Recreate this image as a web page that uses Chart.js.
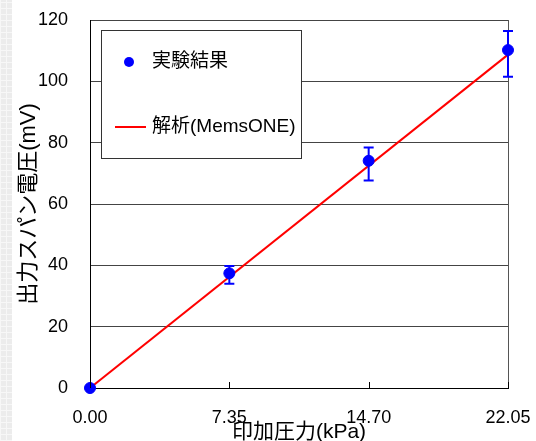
<!DOCTYPE html>
<html lang="ja">
<head>
    <meta charset="UTF-8">
    <title>出力スパン電圧</title>
    <script src="https://cdn.jsdelivr.net/npm/chart.js"></script>
    <style>
        body {
            margin: 0;
            background-color: #ffffff;
        }

        .strip {
            position: absolute;
            left: 0;
            top: 0;
            width: 12px;
            height: 441px;
            background-color: #ececec;
            background-image:
                repeating-linear-gradient(0deg, #f7f7f7 0px, #f7f7f7 1px, transparent 1px, transparent 6px),
                repeating-linear-gradient(90deg, #f7f7f7 0px, #f7f7f7 1px, transparent 1px, transparent 6px);
        }

        canvas {
            position: absolute;
            left: 0;
            top: 0;
        }
    </style>
</head>
<body>
    <div class="strip"></div>
    <canvas id="spanChart" width="536" height="441"></canvas>

    <script>
        // 実験結果
        const pressure = [0, 7.35, 14.70, 22.05];
        const measured = [0, 37.4, 74.1, 110.2];
        const errLow = [0, 34.0, 67.7, 101.5];
        const errHigh = [0, 39.8, 78.4, 116.4];

        // 解析(MemsONE)
        const analysisX = [0, 22.05];
        const analysisY = [0, 108.7];

        const xTicks = [0, 7.35, 14.70, 22.05];
        const yTicks = [0, 20, 40, 60, 80, 100, 120];

        const labelFont = '"Liberation Sans", "Noto Sans CJK JP", sans-serif';

        // error bars and the short inward x tick marks
        const errorBars = {
            id: 'errorBars',
            afterDatasetsDraw(chart) {
                const { ctx, scales, chartArea } = chart;
                ctx.save();
                ctx.strokeStyle = '#000000';
                ctx.lineWidth = 1;
                ctx.beginPath();
                xTicks.forEach(v => {
                    const x = Math.round(scales.x.getPixelForValue(v)) + 0.5;
                    ctx.moveTo(x, chartArea.bottom);
                    ctx.lineTo(x, chartArea.bottom - 6);
                });
                ctx.stroke();

                ctx.strokeStyle = '#0000ff';
                ctx.lineWidth = 2;
                for (let i = 0; i < pressure.length; i++) {
                    if (errHigh[i] === errLow[i]) continue;
                    const x = scales.x.getPixelForValue(pressure[i]);
                    const yl = scales.y.getPixelForValue(errLow[i]);
                    const yh = scales.y.getPixelForValue(errHigh[i]);
                    ctx.beginPath();
                    ctx.moveTo(x, yl);
                    ctx.lineTo(x, yh);
                    ctx.moveTo(x - 5, yl);
                    ctx.lineTo(x + 5, yl);
                    ctx.moveTo(x - 5, yh);
                    ctx.lineTo(x + 5, yh);
                    ctx.stroke();
                }
                ctx.restore();
            }
        };

        const boxLegend = {
            id: 'boxLegend',
            afterDraw(chart) {
                const { ctx, chartArea } = chart;
                const left = chartArea.left + 11;
                const top = chartArea.top + 10;
                ctx.save();
                ctx.fillStyle = '#ffffff';
                ctx.fillRect(left, top, 200, 128);
                ctx.strokeStyle = '#333333';
                ctx.lineWidth = 1;
                ctx.strokeRect(left + 0.5, top + 0.5, 200, 128);

                ctx.fillStyle = '#0000ff';
                ctx.beginPath();
                ctx.arc(left + 28, top + 32, 5, 0, Math.PI * 2);
                ctx.fill();

                ctx.strokeStyle = '#ff0000';
                ctx.lineWidth = 2;
                ctx.beginPath();
                ctx.moveTo(left + 14, top + 97);
                ctx.lineTo(left + 45, top + 97);
                ctx.stroke();

                ctx.fillStyle = '#000000';
                ctx.font = '19px ' + labelFont;
                ctx.textBaseline = 'middle';
                ctx.fillText('実験結果', left + 51, top + 32);
                ctx.fillText('解析(MemsONE)', left + 51, top + 97);
                ctx.restore();
            }
        };

        const ctx = document.getElementById('spanChart').getContext('2d');
        new Chart(ctx, {
            type: 'scatter',
            data: {
                datasets: [{
                    label: '実験結果',
                    data: pressure.map((p, i) => ({ x: p, y: measured[i] })),
                    backgroundColor: '#0000ff',
                    borderColor: '#0000ff',
                    pointRadius: 5.5,
                    pointHoverRadius: 5.5,
                    clip: false,
                    order: 1
                }, {
                    label: '解析(MemsONE)',
                    type: 'line',
                    data: analysisX.map((p, i) => ({ x: p, y: analysisY[i] })),
                    borderColor: '#ff0000',
                    borderWidth: 2,
                    pointRadius: 0,
                    fill: false,
                    order: 2
                }]
            },
            options: {
                responsive: false,
                animation: false,
                layout: {
                    padding: { left: 0, right: 28, top: 20, bottom: 0 }
                },
                plugins: {
                    legend: { display: false },
                    tooltip: { enabled: false }
                },
                scales: {
                    x: {
                        type: 'linear',
                        min: 0,
                        max: 22.05,
                        afterBuildTicks: (axis) => {
                            axis.ticks = xTicks.map(v => ({ value: v }));
                        },
                        afterFit: (axis) => { axis.height = 53; },
                        border: { color: '#000000', width: 1 },
                        grid: {
                            drawOnChartArea: true,
                            color: (c) => c.index === xTicks.length - 1 ? '#555555' : 'rgba(0,0,0,0)',
                            tickColor: 'rgba(0,0,0,0)',
                            tickLength: 19
                        },
                        ticks: {
                            color: '#000000',
                            padding: 0,
                            maxRotation: 0,
                            font: { family: labelFont, size: 18 },
                            callback: (v) => Number(v).toFixed(2)
                        },
                        title: {
                            display: true,
                            text: '印加圧力(kPa)',
                            color: '#000000',
                            padding: 0,
                            font: { family: labelFont, size: 21, lineHeight: 0.8 }
                        }
                    },
                    y: {
                        min: 0,
                        max: 120,
                        afterBuildTicks: (axis) => {
                            axis.ticks = yTicks.map(v => ({ value: v }));
                        },
                        afterFit: (axis) => { axis.width = 90; },
                        border: { color: '#000000', width: 1 },
                        grid: {
                            color: '#444444',
                            tickColor: 'rgba(0,0,0,0)',
                            tickLength: 22
                        },
                        ticks: {
                            color: '#000000',
                            padding: 0,
                            font: { family: labelFont, size: 18 }
                        },
                        title: {
                            display: true,
                            text: '出力スパン電圧(mV)',
                            color: '#000000',
                            padding: { top: 16, bottom: 0 },
                            font: { family: labelFont, size: 22 }
                        }
                    }
                }
            },
            plugins: [errorBars, boxLegend]
        });
    </script>
</body>
</html>
